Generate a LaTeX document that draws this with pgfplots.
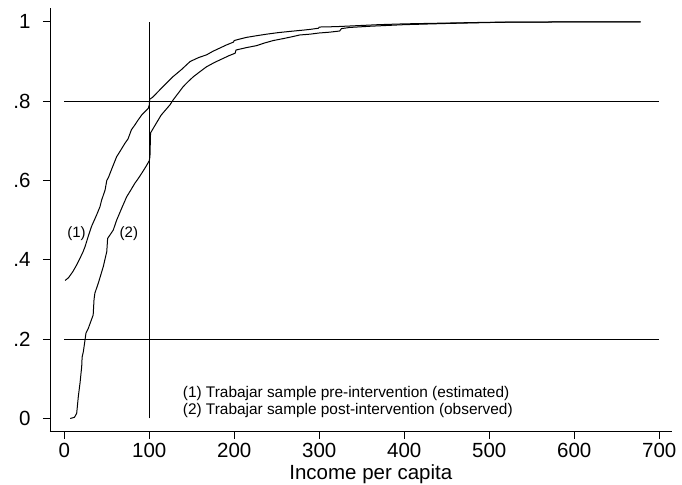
\documentclass[border=0pt]{standalone}
\usepackage{fontspec}
\setmainfont{Liberation Sans}
\usepackage{pgfplots}
\pgfplotsset{compat=1.18}
\begin{document}
\begin{tikzpicture}
\begin{axis}[
  width=621.7pt, height=423.7pt, scale only axis,
  xmin=-16.8, xmax=714.6, ymin=-0.0333, ymax=1.035,
  axis x line*=bottom, axis y line*=left,
  axis line style={black, line width=0.8pt, -},
  tick align=outside, major tick length=7pt,
  tick style={black, line width=0.8pt},
  xtick={0,100,...,700},
  ytick={0,0.2,0.4,0.6,0.8,1},
  yticklabels={0,.2,.4,.6,.8,1},
  /pgf/number format/assume math mode=true,
  tick label style={font=\fontsize{20.5}{21}\selectfont},
  yticklabel style={xshift=-9pt},
  xticklabel style={yshift=-1pt},
  xlabel={Income per capita},
  xlabel style={font=\fontsize{20.5}{21}\selectfont, yshift=-0.5pt, xshift=10pt},
  clip=false,
]
\coordinate (bl) at (rel axis cs:0,0);
\coordinate (tr) at (rel axis cs:1,1);
% reference lines
\addplot[black, line width=0.8pt] coordinates {(0,0.8) (700,0.8)};
\addplot[black, line width=0.8pt] coordinates {(0,0.2) (700,0.2)};
\addplot[black, line width=0.8pt] coordinates {(100,0) (100,1)};
% curve 1: pre-intervention (estimated)
\addplot[black, line width=1pt] coordinates {
(1,0.348) (5,0.355) (10,0.37) (14,0.385) (18.5,0.404) (22,0.42) (24.4,0.433)
(28,0.458) (32,0.484) (38,0.513) (42,0.534) (44,0.551) (48,0.576) (50,0.60)
(52,0.608) (56,0.63) (61.6,0.66) (66,0.675) (71.4,0.694) (75,0.705) (79,0.728)
(83,0.74) (87,0.753) (91,0.765) (95,0.774) (98.8,0.782) (100,0.79) (100.5,0.805)
(104,0.81) (112.6,0.829) (120,0.845) (128,0.862) (138,0.88) (148,0.90) (158,0.91)
(167.5,0.917) (175,0.926) (183,0.934) (191,0.942) (199,0.949) (200,0.953)
(207,0.957) (214.6,0.961) (226,0.965) (238,0.969) (252,0.973) (265.5,0.976)
(280,0.979) (289,0.981) (299,0.984) (300,0.987) (320,0.988) (340,0.99)
(370,0.993) (400,0.995) (450,0.997) (500,0.999) (550,0.9995) (600,1) (678,1)
};
% curve 2: post-intervention (observed)
\addplot[black, line width=1pt] coordinates {
(7,0) (12,0.003) (14.6,0.013) (16.5,0.055) (18.5,0.089) (20.5,0.131) (21,0.155)
(22.4,0.168) (24.4,0.198) (25.5,0.215) (28.2,0.227) (34,0.261) (35,0.30)
(36,0.316) (40,0.341) (45.9,0.383) (50,0.421) (51,0.454) (57.6,0.475)
(61.6,0.50) (67.5,0.53) (73.4,0.559) (78,0.575) (83,0.593) (87,0.605)
(91,0.618) (96,0.635) (100,0.65) (100.8,0.66) (101.5,0.72) (107,0.74)
(114,0.765) (124.4,0.791) (128,0.803) (134,0.82) (140,0.837) (146,0.85)
(152,0.862) (160,0.875) (167.5,0.887) (177,0.898) (187,0.908) (194,0.915)
(201,0.921) (202,0.929) (214,0.935) (226,0.94) (236,0.947) (246,0.953)
(258,0.958) (269,0.963) (277,0.967) (289,0.969) (300,0.972) (312,0.974)
(324,0.977) (326,0.983) (336,0.986) (360,0.989) (400,0.993) (450,0.996)
(513,0.999) (600,1) (678,1)
};
\node[font=\fontsize{15}{17}\selectfont] at (axis cs:14.4,0.466) {(1)};
\node[font=\fontsize{15}{17}\selectfont] at (axis cs:76,0.466) {(2)};
\node[font=\fontsize{15.4}{17.5}\selectfont, anchor=west, align=left, inner sep=0pt] at (axis cs:139.3,0.042)
  {(1) Trabajar sample pre-intervention (estimated)\\(2) Trabajar sample post-intervention (observed)};
\end{axis}
\pgfresetboundingbox
\path ([shift={(-50pt,-53.3pt)}]bl) rectangle ([shift={(10.3pt,8pt)}]tr);
\end{tikzpicture}
\end{document}
